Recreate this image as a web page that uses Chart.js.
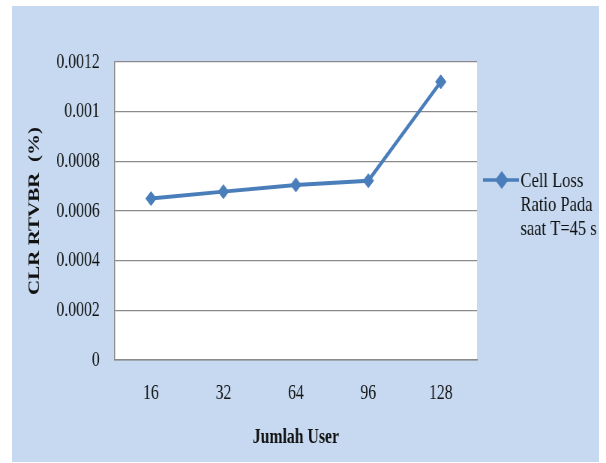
<!DOCTYPE html>
<html>
<head>
<meta charset="utf-8">
<script src="https://cdn.jsdelivr.net/npm/chart.js@4"></script>
<style>
    html, body { margin: 0; padding: 0; background: #ffffff; overflow: hidden; }
    #frame {
        position: absolute; left: 12px; top: 6px;
        width: 587px; height: 456px;
        background: #c6d9f0; overflow: hidden;
    }
    /* the reference is a horizontally squeezed Excel picture */
    #chartClr { transform: scaleX(0.75); transform-origin: 0 0; display: block; }
</style>
</head>
<body>
<div id="frame"><canvas id="chartClr" width="783" height="456"></canvas></div>
<script>
// --- data ---
const users = ['16', '32', '64', '96', '128'];
const clrValues = [0.00065, 0.000678, 0.000705, 0.000722, 0.00112];
const yTickLabels = ['0', '0.0002', '0.0004', '0.0006', '0.0008', '0.001', '0.0012'];
const seriesName = ['Cell Loss', 'Ratio Pada', 'saat T=45 s'];

const LINE_BLUE = '#4a7ebb';
const GRID = '#8a8a8a';

// --- white plot area ---
const plotBg = {
    id: 'plotBg',
    beforeDraw(chart) {
        const { ctx, chartArea: a } = chart;
        ctx.save();
        ctx.fillStyle = '#ffffff';
        ctx.fillRect(a.left, a.top, a.right - a.left, a.bottom - a.top);
        ctx.restore();
    }
};

// --- legend drawn by hand (excel wraps the label over 3 lines) ---
const wrappedLegend = {
    id: 'wrappedLegend',
    afterDraw(chart) {
        const ctx = chart.ctx;
        const ds = chart.data.datasets[0];
        ctx.save();
        ctx.strokeStyle = ds.borderColor;
        ctx.lineWidth = 3.5;
        ctx.beginPath();
        ctx.moveTo(628, 174);
        ctx.lineTo(676, 174);
        ctx.stroke();
        Chart.helpers.drawPoint(ctx, { pointStyle: 'rectRot', radius: 6.5, borderWidth: 1 }, 653, 174);
        ctx.fillStyle = ds.borderColor;
        ctx.fill();
        ctx.fillStyle = '#111';
        ctx.font = '22px "Liberation Serif", "Times New Roman", serif';
        ctx.textBaseline = 'middle';
        ds.label.forEach((t, i) => ctx.fillText(t, 678, 175 + i * 24));
        ctx.restore();
    }
};

const ctxClr = document.getElementById('chartClr').getContext('2d');
new Chart(ctxClr, {
    type: 'line',
    data: {
        labels: users,
        datasets: [{
            label: seriesName,
            data: clrValues,
            borderColor: LINE_BLUE,
            backgroundColor: LINE_BLUE,
            borderWidth: 4,
            tension: 0,
            pointStyle: 'rectRot',
            pointRadius: 7,
            pointBorderWidth: 1
        }]
    },
    options: {
        responsive: false,
        animation: false,
        layout: { padding: { top: 56, right: 163, bottom: 0, left: 0 } },
        plugins: { legend: { display: false }, tooltip: { enabled: false } },
        scales: {
            x: {
                offset: true,
                grid: { display: false, drawTicks: false },
                border: { color: GRID, width: 1.5 },
                ticks: {
                    padding: 21,
                    color: '#111',
                    font: { family: '"Liberation Serif", serif', size: 21 }
                },
                title: {
                    display: true,
                    text: 'Jumlah User',
                    color: '#111',
                    padding: { top: 0, bottom: 12 },
                    font: { family: '"Liberation Serif", serif', size: 21, weight: 'bold' }
                },
                afterFit: (scale) => { scale.height = 102; }
            },
            y: {
                min: 0,
                max: 0.0012,
                grid: { color: GRID, lineWidth: 1.2, drawTicks: false },
                border: { color: GRID, width: 1.5 },
                ticks: {
                    stepSize: 0.0002,
                    padding: 20,
                    color: '#111',
                    font: { family: '"Liberation Serif", serif', size: 21 },
                    callback: (v, i) => yTickLabels[i] ?? String(+v.toFixed(4))
                },
                title: {
                    display: true,
                    text: 'CLR RTVBR  (%)',
                    color: '#111',
                    padding: { top: 18, bottom: 0 },
                    font: { family: '"Liberation Serif", serif', size: 21, weight: 'bold' }
                },
                afterFit: (scale) => { scale.width = 137; }
            }
        }
    },
    plugins: [plotBg, wrappedLegend]
});
</script>
</body>
</html>
